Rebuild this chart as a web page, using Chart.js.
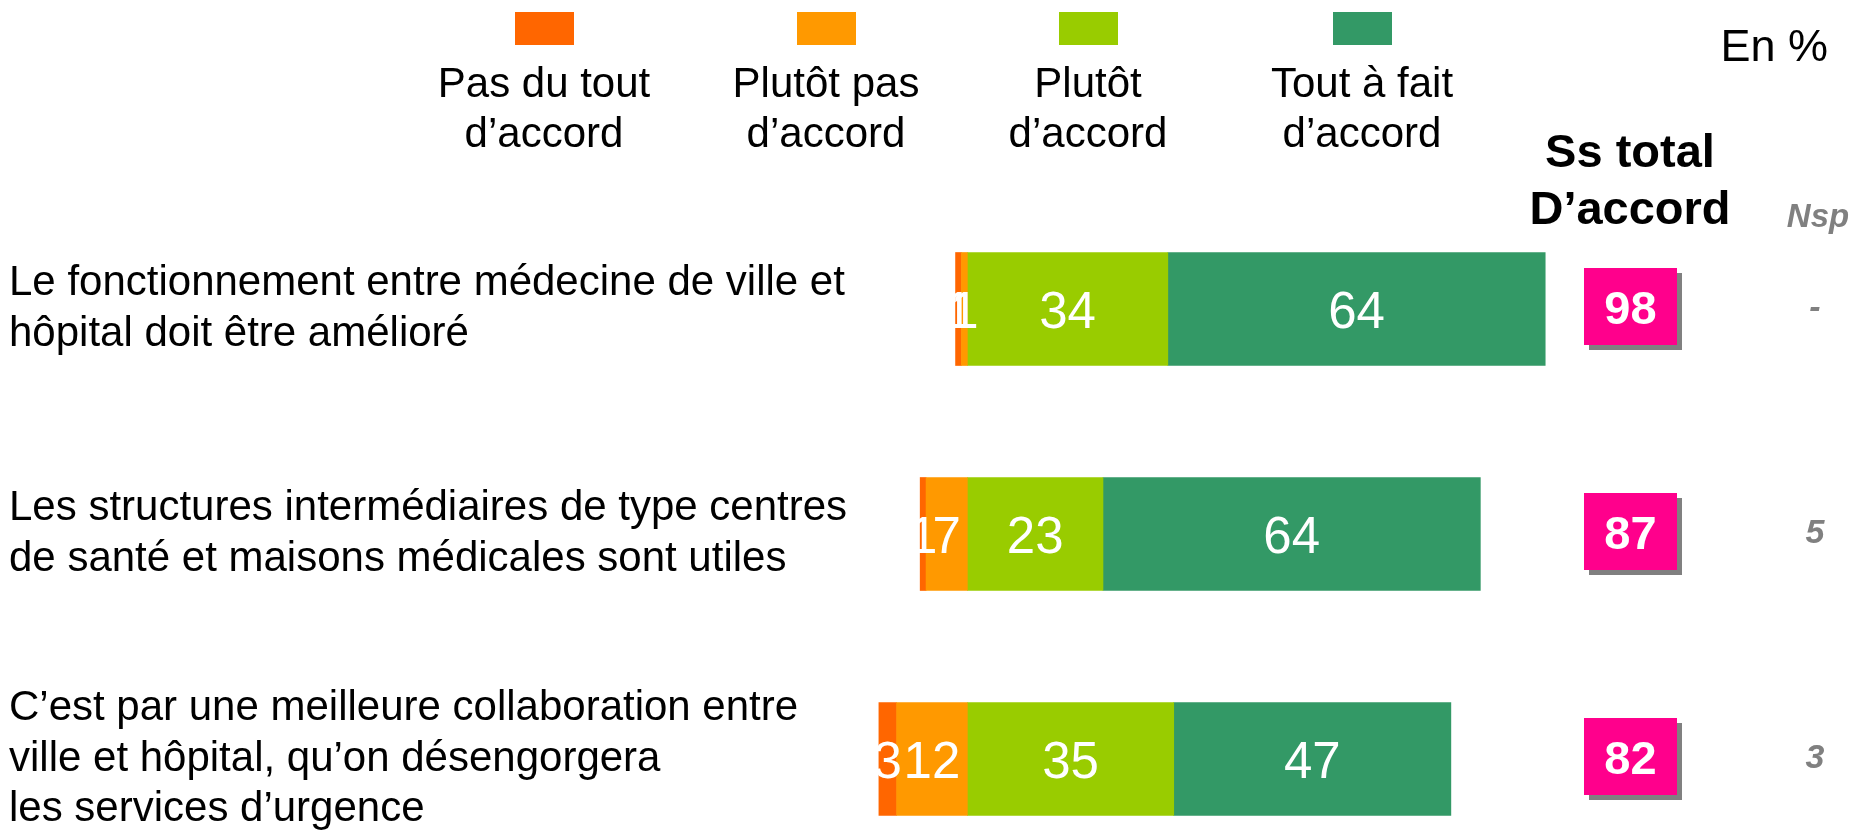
<!DOCTYPE html>
<html lang="fr">
<head>
<meta charset="utf-8">
<title>Médecine de ville et hôpital</title>
<script src="https://cdn.jsdelivr.net/npm/chart.js@4.4.1/dist/chart.umd.min.js"></script>
<style>
  html, body { margin: 0; padding: 0; background: #fff; }
  #wrap { position: relative; width: 1854px; height: 833px; }
</style>
</head>
<body>
<div id="wrap"><canvas id="myChart"></canvas></div>
<script>
// data (in %)
const categories = [
    ['Le fonctionnement entre médecine de ville et', 'hôpital doit être amélioré'],
    ['Les structures intermédiaires de type centres', 'de santé et maisons médicales sont utiles'],
    ['C’est par une meilleure collaboration entre', 'ville et hôpital, qu’on désengorgera', 'les services d’urgence']
];
const pasDuTout = [1, 1, 3];
const plutotPas = [1, 7, 12];
const plutotAccord = [34, 23, 35];
const toutAFait = [64, 64, 47];
const totalAccord = [98, 87, 82];
const nsp = ['-', '5', '3'];

const legendLabels = [
    ['Pas du tout', 'd’accord'],
    ['Plutôt pas', 'd’accord'],
    ['Plutôt', 'd’accord'],
    ['Tout à fait', 'd’accord']
];

const FONT = '"Liberation Sans", Arial, Helvetica, sans-serif';
const colors = ['#FF6600', '#FF9900', '#99CC00', '#339966'];

// white numbers in the middle of each segment
const segmentLabels = {
    id: 'segmentLabels',
    afterDatasetsDraw(chart) {
        const ctx = chart.ctx;
        ctx.save();
        ctx.font = '51px ' + FONT;
        ctx.fillStyle = '#fff';
        ctx.textAlign = 'center';
        ctx.textBaseline = 'middle';
        chart.data.datasets.forEach((ds, i) => {
            chart.getDatasetMeta(i).data.forEach((bar, j) => {
                ctx.fillText(String(Math.abs(ds.data[j])), (bar.x + bar.base) / 2, bar.y + 5);
            });
        });
        ctx.restore();
    }
};

// legend on top, "Ss total" boxes and Nsp column on the right
const extras = {
    id: 'extras',
    afterDraw(chart) {
        const ctx = chart.ctx;
        const yScale = chart.scales.y;
        ctx.save();

        // legend: box above two lines of text
        const legendX = [544, 826, 1088, 1362];
        const legendOrder = [1, 0, 2, 3]; // dataset index for each legend entry
        ctx.textAlign = 'center';
        ctx.textBaseline = 'alphabetic';
        legendOrder.forEach((dsIndex, k) => {
            const ds = chart.data.datasets[dsIndex];
            ctx.fillStyle = ds.backgroundColor;
            ctx.fillRect(legendX[k] - 29, 12, 59, 33);
            ctx.fillStyle = '#000';
            ctx.font = '42px ' + FONT;
            ctx.fillText(legendLabels[k][0], legendX[k], 97);
            ctx.fillText(legendLabels[k][1], legendX[k], 147);
        });

        ctx.font = '45px ' + FONT;
        ctx.textAlign = 'right';
        ctx.fillText('En %', 1828, 61);

        ctx.font = 'bold 47px ' + FONT;
        ctx.textAlign = 'center';
        ctx.fillText('Ss total', 1630, 167);
        ctx.fillText('D’accord', 1630, 224);

        ctx.fillStyle = '#808080';
        ctx.font = 'italic bold 33px ' + FONT;
        ctx.fillText('Nsp', 1818, 227);

        // pink boxes with grey shadow
        totalAccord.forEach((v, j) => {
            const cy = yScale.getPixelForValue(j) - 3;
            ctx.fillStyle = '#808080';
            ctx.fillRect(1589, cy - 38 + 5, 93, 77);
            ctx.fillStyle = '#FF008C';
            ctx.fillRect(1584, cy - 38, 93, 77);
            ctx.fillStyle = '#fff';
            ctx.font = 'bold 47px ' + FONT;
            ctx.textBaseline = 'middle';
            ctx.fillText(String(v), 1630.5, cy + 5);

            ctx.fillStyle = '#808080';
            ctx.font = 'italic bold 34px ' + FONT;
            ctx.fillText(nsp[j], 1815, cy + 3);
            ctx.textBaseline = 'alphabetic';
        });

        ctx.restore();
    }
};

const ctx = document.getElementById('myChart');

new Chart(ctx, {
    type: 'bar',
    data: {
        labels: categories,
        datasets: [
            // negative side stacks from 0 outwards: "plutôt pas" next to the axis
            { label: 'Plutôt pas d’accord', data: plutotPas.map(v => -v), backgroundColor: colors[1] },
            { label: 'Pas du tout d’accord', data: pasDuTout.map(v => -v), backgroundColor: colors[0] },
            { label: 'Plutôt d’accord', data: plutotAccord, backgroundColor: colors[2] },
            { label: 'Tout à fait d’accord', data: toutAFait, backgroundColor: colors[3] }
        ]
    },
    options: {
        indexAxis: 'y',
        responsive: true,
        maintainAspectRatio: false,
        animation: false,
        datasets: {
            bar: { barThickness: 113, clip: false, borderWidth: 0 }
        },
        layout: {
            padding: { top: 309, bottom: 74, left: 9, right: 297 }
        },
        scales: {
            x: {
                stacked: true,
                display: false,
                min: -16,
                max: 100
            },
            y: {
                stacked: true,
                offset: false,
                grid: { display: false },
                border: { display: false },
                ticks: {
                    autoSkip: false,
                    crossAlign: 'far',
                    color: '#000',
                    font: { family: FONT, size: 42 }
                },
                afterFit(scale) {
                    scale.width = 864;
                }
            }
        },
        plugins: {
            legend: { display: false },
            tooltip: { enabled: false }
        }
    },
    plugins: [segmentLabels, extras]
});
</script>
</body>
</html>
